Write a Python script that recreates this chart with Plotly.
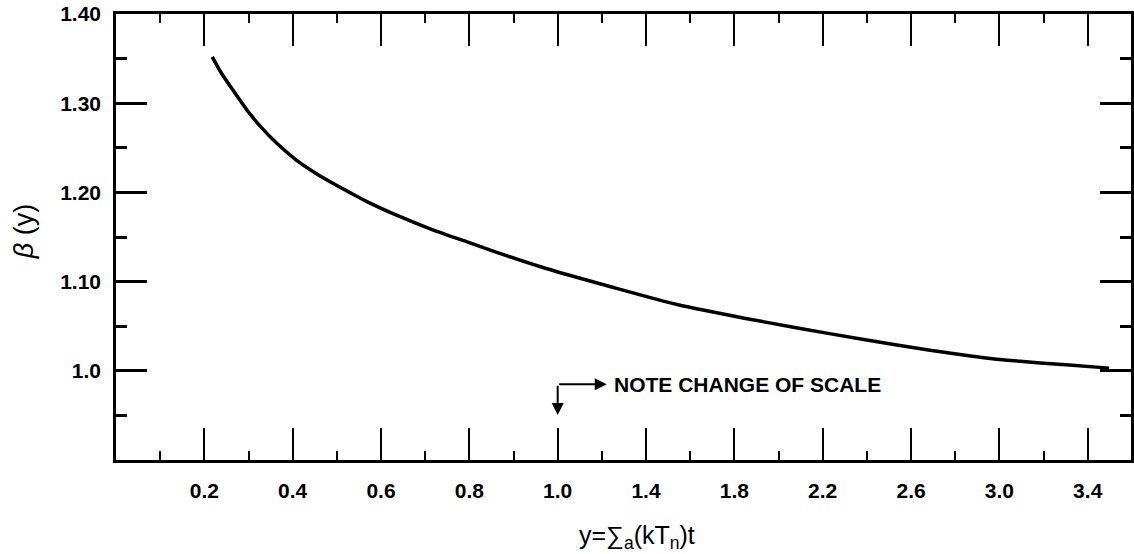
import plotly.graph_objects as go

# ---- data ----
y_values = [0.218, 0.237, 0.267, 0.297, 0.327, 0.364, 0.409, 0.454, 0.492, 0.529,
            0.567, 0.642, 0.717, 0.792, 0.867, 0.972,
            1.244, 1.545, 1.845, 2.086, 2.386, 2.686, 2.986, 3.287, 3.497]
beta_values = [1.352, 1.335, 1.313, 1.292, 1.274, 1.255, 1.236, 1.221, 1.210, 1.200,
               1.190, 1.173, 1.158, 1.145, 1.132, 1.115,
               1.094, 1.074, 1.059, 1.048, 1.035, 1.023, 1.013, 1.007, 1.003]

x_tick_labels = ["0.2", "0.4", "0.6", "0.8", "1.0", "1.4", "1.8", "2.2", "2.6", "3.0", "3.4"]
x_minor_ticks = [0.1, 0.3, 0.5, 0.7, 0.9, 1.2, 1.6, 2.0, 2.4, 2.8, 3.2, 3.6]
y_tick_values = [0.9, 1.0, 1.1, 1.2, 1.3, 1.4]
y_tick_labels = ["", "1.0", "1.10", "1.20", "1.30", "1.40"]
y_minor_ticks = [0.95, 1.05, 1.15, 1.25, 1.35]

SCALE_BREAK = 1.0   # beyond this the x scale is halved ("NOTE CHANGE OF SCALE")


def to_axis(v):
    """Map a y value onto the broken-scale axis coordinate."""
    return v if v <= SCALE_BREAK else SCALE_BREAK + (v - SCALE_BREAK) / 2.0


FONT = "Liberation Sans, Arial, sans-serif"
X_STANDOFF, Y_STANDOFF = 10, 8

fig = go.Figure()
fig.add_trace(go.Scatter(
    x=[to_axis(v) for v in y_values], y=beta_values,
    mode="lines", line=dict(color="black", width=3.5, shape="spline", smoothing=0.6),
    showlegend=False, hoverinfo="skip"))

fig.update_layout(
    width=1134, height=554,
    margin=dict(l=116, r=0, t=14, b=94),
    paper_bgcolor="white", plot_bgcolor="white",
    font=dict(family=FONT, color="black"),
    xaxis=dict(
        range=[0, 2.298], showgrid=False, zeroline=False,
        showline=True, linecolor="black", linewidth=2.5, mirror="ticks",
        ticks="inside", ticklen=22 + X_STANDOFF, tickwidth=2, tickcolor="black",
        tickmode="array", tickvals=[to_axis(float(t)) for t in x_tick_labels],
        ticktext=x_tick_labels, ticklabelstandoff=X_STANDOFF,
        tickfont=dict(size=21, family=FONT, color="black", weight="bold"),
        minor=dict(tickmode="array", tickvals=[to_axis(v) for v in x_minor_ticks],
                   ticks="inside", ticklen=9, tickwidth=2, tickcolor="black", showgrid=False),
    ),
    yaxis=dict(
        range=[0.9, 1.4], showgrid=False, zeroline=False,
        showline=True, linecolor="black", linewidth=2.5, mirror="ticks",
        ticks="inside", ticklen=23 + Y_STANDOFF, tickwidth=2.5, tickcolor="black",
        tickmode="array", tickvals=y_tick_values, ticktext=y_tick_labels,
        ticklabelstandoff=Y_STANDOFF,
        tickfont=dict(size=21, family=FONT, color="black", weight="bold"),
        minor=dict(tickmode="array", tickvals=y_minor_ticks, ticks="inside",
                   ticklen=11, tickwidth=2.5, tickcolor="black", showgrid=False),
    ),
)

# axis titles
fig.add_annotation(text="<i>β</i> (y)", xref="paper", yref="paper",
                   x=-0.091, y=0.512, textangle=-90, showarrow=False,
                   xanchor="center", yanchor="middle",
                   font=dict(size=27, family=FONT, color="black"))
fig.add_annotation(text="y=∑<sub>a</sub>(kT<sub>n</sub>)t", xref="paper", yref="paper",
                   x=0.513, y=-0.173, showarrow=False,
                   xanchor="center", yanchor="middle",
                   font=dict(size=25, family=FONT, color="black"))

# "NOTE CHANGE OF SCALE" with its bent arrow
corner_y = 0.985
fig.add_annotation(text="NOTE CHANGE OF SCALE", x=to_axis(1.244), y=corner_y,
                   xref="x", yref="y", showarrow=False, xanchor="left", yanchor="middle",
                   font=dict(size=21, family=FONT, color="black", weight="bold"))
fig.add_annotation(text="", x=to_axis(1.222), y=corner_y, ax=to_axis(SCALE_BREAK), ay=corner_y,
                   xref="x", yref="y", axref="x", ayref="y",
                   showarrow=True, arrowhead=2, arrowsize=1.2, arrowwidth=2, arrowcolor="black",
                   standoff=0, startstandoff=0)
fig.add_annotation(text="", x=to_axis(SCALE_BREAK), y=0.9505, ax=to_axis(SCALE_BREAK), ay=corner_y,
                   xref="x", yref="y", axref="x", ayref="y",
                   showarrow=True, arrowhead=2, arrowsize=1.2, arrowwidth=2, arrowcolor="black",
                   standoff=0, startstandoff=0)

fig.write_html("out.html")
